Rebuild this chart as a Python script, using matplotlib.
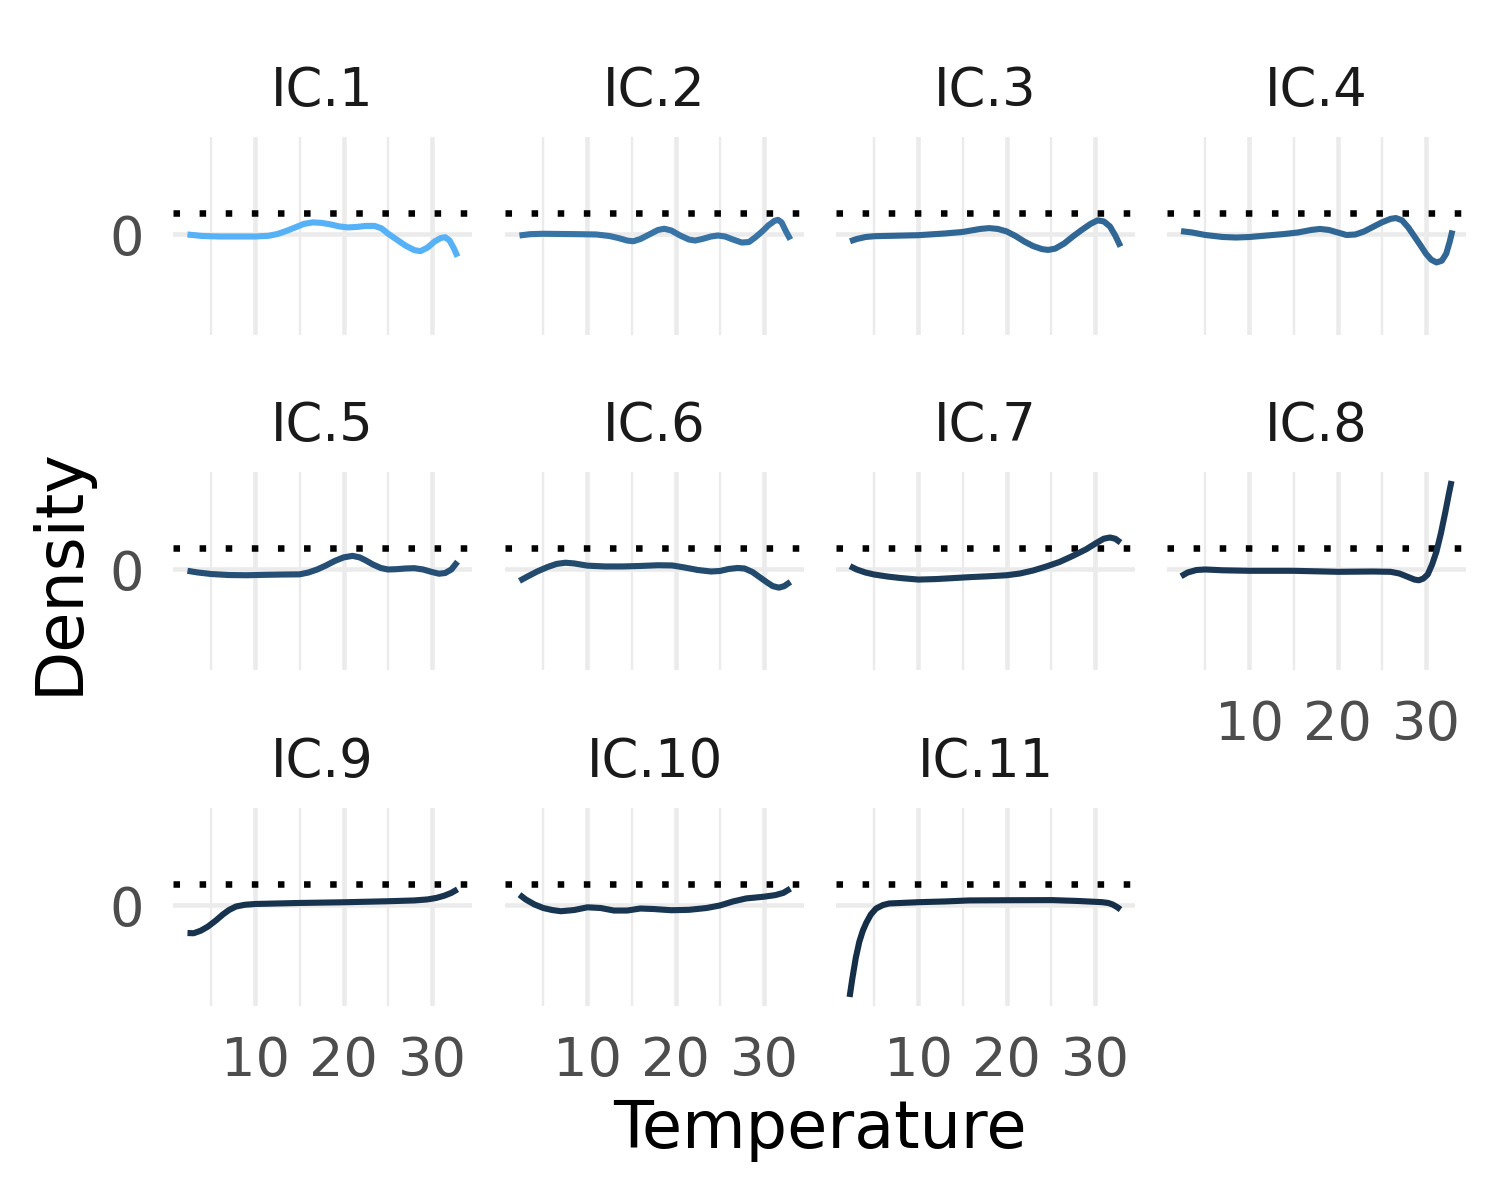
import matplotlib
matplotlib.use("Agg")
import matplotlib.pyplot as plt
import matplotlib.colors as mcolors
from matplotlib.ticker import FixedLocator
import numpy as np

# ---------------------------------------------------------------------------
# Data (temperature, density offset in 1e-3 units)
# ---------------------------------------------------------------------------
ic1_temp = [2.3, 4, 6, 8, 10, 11.5, 12.5, 13.5, 14.5, 15.5, 16.5, 17.5, 18.5, 19.5, 20.5,
            21.5, 22.5, 23.5, 24.3, 25, 26, 27, 28, 28.7, 29.5, 30.3, 31, 31.5, 32, 32.5, 32.9]
ic1_dens = [0, -1.5, -2, -2, -2, -1.3, 0.5, 3.5, 7, 10.5, 12, 11.5, 10, 8, 7,
            7.5, 8.5, 8.5, 6, 1, -5, -11, -15.5, -16.5, -13, -7, -3.5, -2.7, -6, -14, -22]

ic2_temp = [2.3, 3.5, 5, 7, 9, 11, 12.5, 13.5, 14.5, 15.2, 16, 17, 18, 18.7, 19.5, 20.5, 21.5,
            22.2, 23, 24, 24.8, 25.6, 26.5, 27.5, 28.3, 29, 29.8, 30.5, 31.2, 31.6, 32, 32.5, 33]
ic2_dens = [-1, 0.3, 0.7, 0.5, 0.3, 0, -1.5, -3.5, -6, -6.7, -4.5, 0, 4.5, 5.7, 4, -1, -5,
            -6, -4.5, -2, -1, -2, -5, -8, -7.5, -3, 3, 9, 13.5, 14.5, 12, 3, -5]

ic3_temp = [2.25, 3, 4, 5, 7, 10, 13, 15, 17, 18, 19, 20, 21, 22, 23, 24, 24.7, 25.5, 26.5,
            27.5, 28.5, 29.5, 30.3, 31, 31.7, 32.3, 32.9]
ic3_dens = [-6.7, -4.5, -2.5, -1.7, -1.3, -0.7, 1, 2.5, 5.5, 6.3, 5.5, 3, -1.5, -7, -11.5,
            -14.5, -15.3, -14, -9, -2, 4.5, 10.5, 14, 13, 8, -1, -12]

ic4_temp = [2.25, 3.5, 5, 7, 8.5, 10, 12, 14, 15.5, 17, 18, 19, 20, 21, 22, 23, 24, 25, 26,
            26.6, 27.3, 28, 28.7, 29.4, 30, 30.6, 31.2, 31.8, 32.3, 32.7, 33]
ic4_dens = [3.3, 2, -0.5, -2.5, -3, -2.5, -1, 0.5, 2, 4.5, 5.5, 4.5, 2, -0.5, 0, 3, 7.5, 12,
            15.5, 16.3, 14, 7, -2, -11, -19, -25, -27.7, -26, -19, -7, 4]

ic5_temp = [2.3, 3.5, 5, 7, 9, 11, 13, 15, 16, 17, 18, 19, 20, 21, 21.8, 22.5, 23.3, 24.2,
            25, 26, 27, 28, 29, 30, 30.8, 31.5, 32.2, 32.9]
ic5_dens = [-1.3, -3, -4.5, -5.5, -5.7, -5.3, -5, -4.8, -3, 0, 4, 8.5, 12, 13.5, 12, 9, 5,
            1.5, 0, 0.3, 1, 1.3, 0, -2.5, -4.2, -3.5, 0, 7.7]

ic6_temp = [2.3, 3.2, 4.3, 5.5, 6.5, 7.5, 8.5, 10, 12, 14, 16, 18, 19.6, 21, 22.5, 24, 25,
            26, 27, 27.8, 28.7, 29.5, 30.3, 31, 31.7, 32.3, 33]
ic6_dens = [-11.3, -7, -2, 2.5, 5.5, 6.7, 6, 3.8, 3, 3, 3.5, 4.2, 4, 2, -0.5, -2, -1.5,
            0.5, 1.5, 1, -2.5, -7.5, -12.5, -16.5, -18, -16.5, -12.3]

ic7_temp = [2.25, 3, 4, 5, 6.5, 8, 10, 12, 14, 16, 18, 20, 21.5, 23, 24.5, 26, 27.5, 29,
            30.2, 31, 31.7, 32.3, 32.9]
ic7_dens = [3.3, 0, -3, -5, -7, -8.5, -10, -9.5, -8.5, -7.5, -6.7, -5.7, -4, -1, 3, 7.5,
            13.5, 20, 26.5, 30.5, 31.7, 30.5, 26.7]

ic8_temp = [2.25, 3, 4, 5, 7, 10, 15, 20, 24, 26, 27, 28, 28.7, 29.2, 29.7, 30.2, 30.7,
            31.2, 31.7, 32.2, 32.6, 32.9]
ic8_dens = [-6.7, -3, -0.5, 0, -0.8, -1.3, -1.3, -2.3, -2, -2.3, -4, -7.5, -10, -10.7, -9,
            -5, 5, 18, 36, 57, 75, 87.7]

ic9_temp = [2.3, 3, 3.8, 4.6, 5.5, 6.3, 7, 7.8, 8.8, 10, 15, 20, 25, 28, 29.5, 30.5, 31.4,
            32.2, 32.9]
ic9_dens = [-27.3, -27.5, -25, -21, -15, -9, -4.5, -1, 0.7, 1.5, 2.5, 3.2, 4.2, 5, 6, 7.5,
            9.7, 12.5, 16]

ic10_temp = [2.3, 3, 4, 5, 6, 7, 8.5, 10, 11.5, 13, 14.5, 16, 17.5, 19.5, 21.5, 23.5, 25,
             26.5, 28, 30, 31.3, 32.2, 33]
ic10_dens = [10.7, 6, 1, -2.5, -4.5, -5.7, -4.5, -1.8, -2.5, -5, -5, -3, -3.5, -4.7, -4.3,
             -2.5, 0, 4, 7, 8.7, 10.3, 12.5, 16.7]

ic11_temp = [2.2, 2.5, 2.9, 3.3, 3.7, 4.1, 4.6, 5.2, 6, 6.7, 8, 10.1, 13, 15.75, 20, 25.2,
             28, 30.8, 31.5, 32, 32.5, 32.9]
ic11_dens = [-90.7, -73, -52, -36, -25, -17, -9, -3, 0.5, 2, 2.5, 3.3, 4, 5, 5.2, 5.3, 4.5,
             3.3, 2.5, 1, -1.5, -4]

ic_labels = ["IC.1", "IC.2", "IC.3", "IC.4", "IC.5", "IC.6",
             "IC.7", "IC.8", "IC.9", "IC.10", "IC.11"]
ic_shade = [1.0, 0.55, 0.45, 0.45, 0.27, 0.24, 0.12, 0.10, 0.06, 0.08, 0.03]
ref_level = 21.0    # dotted reference line

x_breaks = [10, 20, 30]
x_minor = [5, 15, 25]

series = [
    (ic1_temp, ic1_dens), (ic2_temp, ic2_dens), (ic3_temp, ic3_dens),
    (ic4_temp, ic4_dens), (ic5_temp, ic5_dens), (ic6_temp, ic6_dens),
    (ic7_temp, ic7_dens), (ic8_temp, ic8_dens), (ic9_temp, ic9_dens),
    (ic10_temp, ic10_dens), (ic11_temp, ic11_dens),
]

# ggplot-like default continuous colour scale
cmap = mcolors.LinearSegmentedColormap.from_list("gg", ["#132B43", "#56B1F7"])

# shared scales with 5% expansion
all_x = np.concatenate([np.asarray(t) for t, _ in series])
all_y = np.concatenate([np.asarray(d) for _, d in series])
xr = all_x.max() - all_x.min()
yr = all_y.max() - all_y.min()
xlim = (all_x.min() - 0.05 * xr, all_x.max() + 0.05 * xr)
ylim = (all_y.min() - 0.05 * yr, all_y.max() + 0.05 * yr)

# ---------------------------------------------------------------------------
# Layout (pixel boxes on a 1500x1200 canvas)
# ---------------------------------------------------------------------------
W, H = 1500, 1200
col_left = [173, 505, 836, 1167]
row_top = [137, 472, 808]
pw, ph = 299, 198
ncol = 4

fig = plt.figure(figsize=(7.5, 6), dpi=200, facecolor="white")

for i, (label, (tx, dy)) in enumerate(zip(ic_labels, series)):
    r, c = divmod(i, ncol)
    ax = fig.add_axes([col_left[c] / W, 1 - (row_top[r] + ph) / H, pw / W, ph / H])
    ax.set_xlim(*xlim)
    ax.set_ylim(*ylim)
    for s in ax.spines.values():
        s.set_visible(False)

    ax.xaxis.set_major_locator(FixedLocator(x_breaks))
    ax.xaxis.set_minor_locator(FixedLocator(x_minor))
    ax.yaxis.set_major_locator(FixedLocator([0]))
    ax.grid(which="major", color="#EBEBEB", linewidth=1.65)
    ax.grid(which="minor", axis="x", color="#EBEBEB", linewidth=0.85)
    ax.set_axisbelow(True)
    ax.tick_params(which="both", length=0)
    ax.tick_params(axis="x", labelsize=19.5, labelcolor="#4D4D4D", pad=10.5)
    ax.tick_params(axis="y", labelsize=19.5, labelcolor="#4D4D4D", pad=10.5)

    bottom_of_col = (i + ncol) >= len(ic_labels)
    if not bottom_of_col:
        ax.set_xticklabels([])
    if c != 0:
        ax.set_yticklabels([])

    ax.axhline(ref_level, color="black", linewidth=2.35, linestyle=(0, (1, 3)),
               dash_capstyle="butt", zorder=2)
    ax.plot(tx, dy, color=cmap(ic_shade[i]), linewidth=2.2, zorder=3,
            solid_capstyle="butt")
    ax.set_title(label, fontsize=19, color="#1A1A1A", pad=11)

fig.text(819.5 / W, 1 - 1130 / H, "Temperature", ha="center", va="center", fontsize=23.5)
fig.text(60 / W, 1 - 571 / H, "Density", ha="center", va="center", rotation=90,
         fontsize=23.5)

fig.savefig("out.png", dpi=200, facecolor="white")
